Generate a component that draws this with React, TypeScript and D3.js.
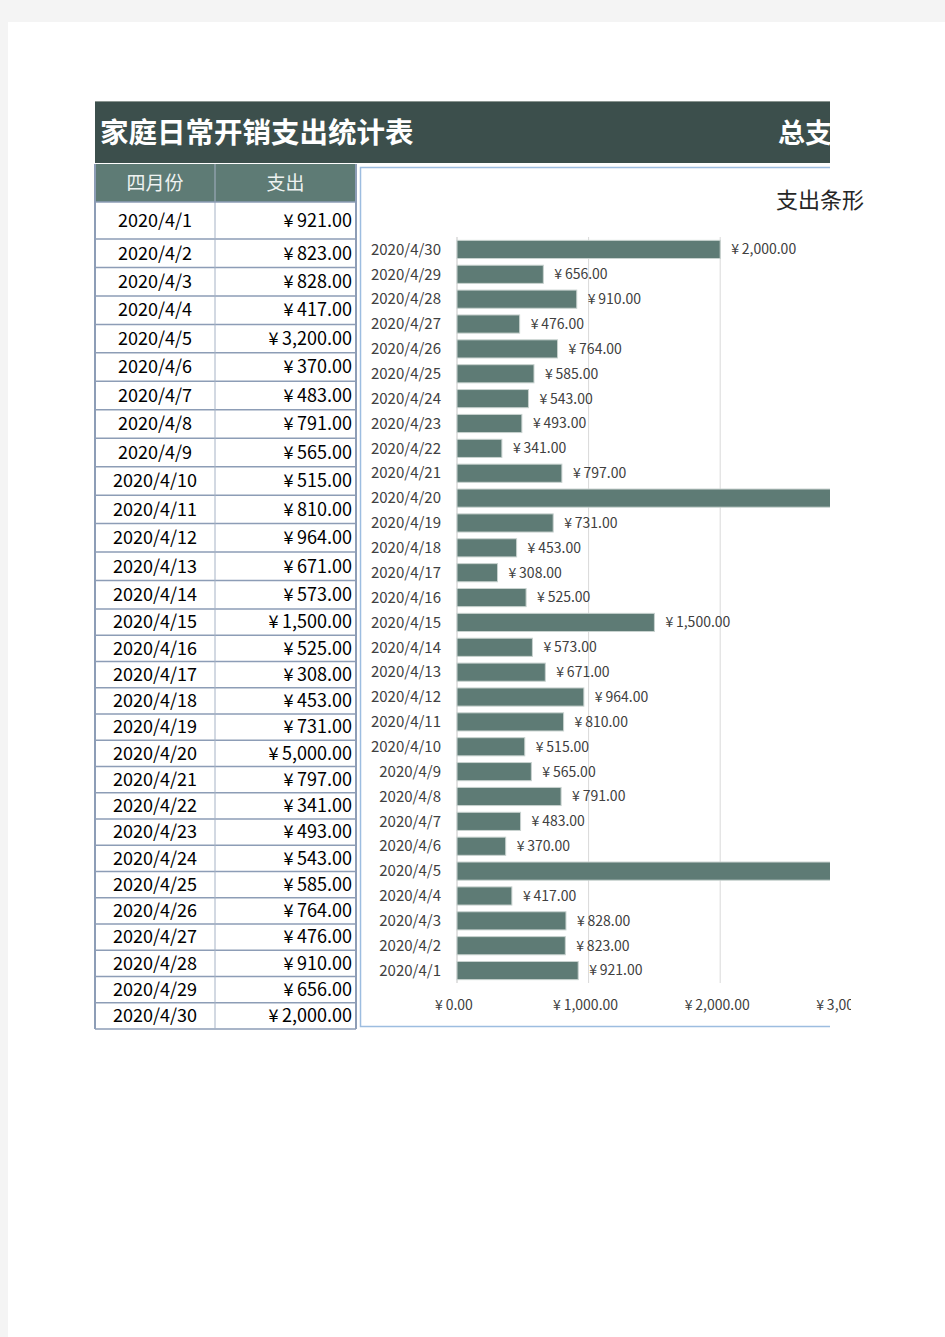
import React from "react";
import * as d3 from "d3";

const title = "家庭日常开销支出统计表";
const titleRight = "总支";
const colHeaders = ["四月份", "支出"];
const chartTitle = "支出条形";
const dates = [
  "2020/4/1", "2020/4/2", "2020/4/3", "2020/4/4", "2020/4/5", "2020/4/6", "2020/4/7", "2020/4/8",
  "2020/4/9", "2020/4/10", "2020/4/11", "2020/4/12", "2020/4/13", "2020/4/14", "2020/4/15",
  "2020/4/16", "2020/4/17", "2020/4/18", "2020/4/19", "2020/4/20", "2020/4/21", "2020/4/22",
  "2020/4/23", "2020/4/24", "2020/4/25", "2020/4/26", "2020/4/27", "2020/4/28", "2020/4/29", "2020/4/30",
];
const spend = [
  921, 823, 828, 417, 3200, 370, 483, 791, 565, 515, 810, 964, 671, 573, 1500,
  525, 308, 453, 731, 5000, 797, 341, 493, 543, 585, 764, 476, 910, 656, 2000,
];
const xTicks = [0, 1000, 2000, 3000, 4000, 5000, 6000];

const FONT = "'Noto Sans CJK SC', 'Noto Sans', sans-serif";
const fmt = d3.format(",.2f");
const money = (v: number) => "¥\u2009" + fmt(v);

export default function App() {
  const clipX = 830;
  // table layout
  const tL = 95, tMid = 215, tR = 356;
  const headTop = 164, headBot = 202;
  const firstBot = 239;
  const rowA = 28.46; // rows 2-14
  const rowB = 26.25; // rows 15-30
  const rowTops: number[] = [];
  const rowBots: number[] = [];
  let y0 = headBot;
  dates.forEach((_, i) => {
    const h = i === 0 ? firstBot - headBot : i < 14 ? rowA : rowB;
    rowTops.push(y0);
    rowBots.push(y0 + h);
    y0 += h;
  });
  const tableBottom = rowBots[rowBots.length - 1];

  // chart
  const order = dates.map((d, i) => i).reverse();
  const y = d3
    .scaleBand<string>()
    .domain(order.map((i) => dates[i]))
    .range([237, 983])
    .paddingInner(0.27)
    .paddingOuter(0.135);
  const x = d3.scaleLinear().domain([0, 6000]).range([457, 457 + 6 * 131.6]);

  return (
    <svg
      width={945}
      height={1337}
      style={{ position: "absolute", left: 0, top: 0, display: "block" }}
      fontFamily={FONT}
    >
      <defs>
        <clipPath id="pg">
          <rect x={0} y={0} width={clipX} height={1337} />
        </clipPath>
        <clipPath id="ax">
          <rect x={0} y={0} width={851} height={1337} />
        </clipPath>
      </defs>
      <rect x={0} y={0} width={945} height={1337} fill="#f4f4f4" />
      <rect x={8} y={22} width={937} height={1315} fill="#ffffff" />
      <g clipPath="url(#pg)">
        {/* title band */}
        <rect x={95} y={101} width={760} height={62} fill="#3c4f4c" />
        <line x1={95} x2={855} y1={101.5} y2={101.5} stroke="#8a9590" strokeWidth={1} />

        {/* chart box */}
        <rect x={360.5} y={167.5} width={520} height={859} fill="#ffffff" stroke="#9dbde0" strokeWidth={1.5} />

        {/* gridlines */}
        {xTicks.slice(1).map((t) => (
          <line key={t} x1={x(t)} x2={x(t)} y1={237} y2={983} stroke="#d9d9d9" strokeWidth={1} />
        ))}
        <line x1={x(0)} x2={x(0)} y1={237} y2={983} stroke="#d9d9d9" strokeWidth={1.5} />

        {/* bars */}
        {order.map((i) => (
          <rect
            key={dates[i]}
            x={x(0)}
            y={y(dates[i])!}
            width={x(spend[i]) - x(0)}
            height={y.bandwidth()}
            fill="#5e7b75"
            stroke="#c8d2cf"
            strokeWidth={1}
          />
        ))}
      </g>

      <text x={100} y={143} fill="#ffffff" fontSize={28.5} fontWeight="bold">{title}</text>
      <text x={778} y={143} fill="#ffffff" fontSize={27} fontWeight="bold">{titleRight}</text>
      <text x={776} y={208} fill="#262626" fontSize={22}>{chartTitle}</text>

      {order.map((i) => (
        <g key={dates[i]}>
          <text
            x={441}
            y={y(dates[i])! + y.bandwidth() / 2}
            dy="0.35em"
            textAnchor="end"
            fontSize={15}
            fill="#404040"
          >
            {dates[i]}
          </text>
          {x(spend[i]) + 11 < clipX && (
            <text
              x={x(spend[i]) + 11}
              y={y(dates[i])! + y.bandwidth() / 2}
              dy="0.35em"
              fontSize={14}
              fill="#404040"
            >
              {money(spend[i])}
            </text>
          )}
        </g>
      ))}
      <g clipPath="url(#ax)">
        {xTicks
          .filter((t) => x(t) < 870)
          .map((t) => (
            <text key={t} x={x(t) - 3} y={1010} textAnchor="middle" fontSize={14} fill="#404040">
              {money(t)}
            </text>
          ))}
      </g>

      {/* table header */}
      <rect x={tL} y={headTop} width={tR - tL} height={headBot - headTop} fill="#5e7b75" />
      <text x={(tL + tMid) / 2} y={(headTop + headBot) / 2} dy="0.35em" textAnchor="middle" fill="#eef2f1" fontSize={19}>
        {colHeaders[0]}
      </text>
      <text x={(tMid + tR) / 2} y={(headTop + headBot) / 2} dy="0.35em" textAnchor="middle" fill="#eef2f1" fontSize={19}>
        {colHeaders[1]}
      </text>

      {/* table rows */}
      {dates.map((d, i) => (
        <g key={d}>
          <text
            x={(tL + tMid) / 2}
            y={(rowTops[i] + rowBots[i]) / 2}
            dy="0.35em"
            textAnchor="middle"
            fontSize={18}
            fill="#000000"
          >
            {d}
          </text>
          <text
            x={tR - 4}
            y={(rowTops[i] + rowBots[i]) / 2}
            dy="0.35em"
            textAnchor="end"
            fontSize={18}
            fill="#000000"
          >
            {money(spend[i])}
          </text>
          <line x1={tL} x2={tR} y1={rowBots[i]} y2={rowBots[i]} stroke="#8d9db6" strokeWidth={1.5} />
        </g>
      ))}
      <line x1={tMid} x2={tMid} y1={headTop} y2={tableBottom} stroke="#a5b2c5" strokeWidth={1} />
      <line x1={tL} x2={tL} y1={headTop} y2={tableBottom} stroke="#8d9db6" strokeWidth={2} />
      <line x1={tR} x2={tR} y1={headTop} y2={tableBottom} stroke="#8d9db6" strokeWidth={2} />
      <line x1={tL} x2={tR} y1={headBot} y2={headBot} stroke="#8d9db6" strokeWidth={1.5} />
    </svg>
  );
}
